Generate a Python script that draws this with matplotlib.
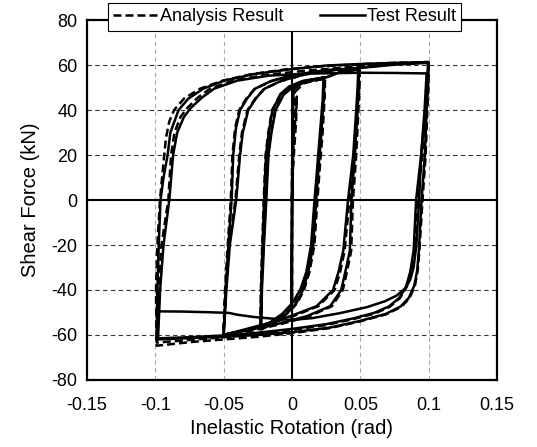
import matplotlib
matplotlib.use('Agg')
import matplotlib.pyplot as plt

plt.rcParams['font.family'] = ['Liberation Sans', 'DejaVu Sans']
plt.rcParams['axes.unicode_minus'] = False

# ---- data (inelastic rotation in rad, shear in kN) ----
# Test result (solid line)
test_small_x = [0.0, 0.0004, 0.0006, 0.0003, 0.0, -0.0003, -0.0002, 0.0002, 0.001]
test_small_y = [0.0, 30.0, 48.0, 20.0, 0.0, -30.0, -47.0, 0.0, 49.0]

test_025_x = [0.001, 0.008, 0.0235, 0.023, 0.0215, 0.0195, 0.0177, 0.0155, 0.012, 0.008, 0.003, -0.003, -0.012, -0.023,
              -0.0225, -0.0215, -0.0204, -0.019, -0.017, -0.0143, -0.008, -0.002, 0.008, 0.023,
              0.0225, 0.0205, 0.0185, 0.0165, 0.014, 0.0105, 0.006, 0.0, -0.007, -0.015, -0.0225,
              -0.022, -0.0205, -0.0188, -0.0172, -0.015, -0.012, -0.006, 0.0, 0.01, 0.0225, 0.035, 0.049]
test_025_y = [49.0, 52.5, 54.5, 45.0, 30.0, 15.0, 0.0, -20.0, -32.0, -40.0, -46.0, -50.0, -54.0, -57.5,
              -40.0, -20.0, 0.0, 20.0, 30.0, 40.0, 47.4, 50.5, 53.0, 54.5,
              45.0, 30.0, 15.0, 0.0, -20.0, -32.0, -40.0, -46.0, -50.5, -54.0, -57.2,
              -40.0, -20.0, 0.0, 20.0, 30.0, 40.0, 47.0, 50.0, 52.5, 54.0, 56.8, 58.0]

test_05_x = [0.049, 0.0487, 0.0477, 0.046, 0.0435, 0.0423, 0.039, 0.036, 0.028, 0.011, -0.01, -0.03, -0.05,
             -0.0485, -0.0465, -0.0442, -0.043, -0.041, -0.038, -0.033, -0.027, -0.015, 0.0, 0.025, 0.0485,
             0.048, 0.047, 0.0448, 0.041, 0.0375, 0.034, 0.030, 0.018, -0.001, -0.02, -0.035, -0.05,
             -0.048, -0.0455, -0.0408, -0.038, -0.036, -0.032, -0.026, -0.02, -0.008, 0.01, 0.03, 0.048, 0.075, 0.1]
test_05_y = [58.0, 50.0, 40.0, 20.0, 0.0, -22.6, -32.0, -40.0, -47.2, -51.6, -55.0, -57.6, -59.8,
             -40.0, -20.0, 0.0, 20.0, 32.0, 40.0, 45.0, 49.5, 53.0, 55.5, 57.8, 58.5,
             50.0, 40.0, 20.0, 0.0, -22.6, -32.0, -40.0, -47.2, -51.6, -55.2, -57.6, -60.0,
             -40.0, -20.0, 0.0, 20.0, 30.0, 40.0, 45.5, 49.5, 53.0, 56.0, 57.8, 58.6, 60.2, 61.0]

test_10_x = [0.1, 0.0995, 0.0985, 0.0972, 0.0948, 0.0928, 0.0916, 0.0895, 0.0855, 0.0795, 0.0688, 0.0495, 0.028, 0.0,
             -0.025, -0.05, -0.075, -0.099,
             -0.0985, -0.0975, -0.0962, -0.094, -0.091, -0.089, -0.083, -0.076, -0.065, -0.0495, -0.028,
             -0.003, 0.025, 0.05, 0.075, 0.0995,
             0.099, 0.0975, 0.0945, 0.0908, 0.089, 0.0865, 0.0835, 0.0785, 0.071, 0.06, 0.045, 0.025, 0.0,
             -0.025, -0.05, -0.075, -0.098,
             -0.0965, -0.094, -0.0898, -0.087, -0.084, -0.079, -0.074, -0.066, -0.057, -0.04, -0.017,
             0.01, 0.05, 0.075, 0.0985]
test_10_y = [61.0, 50.0, 40.0, 20.0, 0.0, -22.6, -31.3, -38.0, -43.5, -47.3, -50.6, -53.8, -56.7, -58.8,
             -60.0, -60.8, -61.4, -62.0,
             -40.0, -20.0, 0.0, 10.0, 20.0, 30.0, 40.0, 45.0, 49.5, 53.1, 56.0,
             58.0, 59.8, 60.5, 61.0, 61.3,
             50.0, 40.0, 20.0, 0.0, -22.6, -32.0, -38.5, -43.5, -47.3, -50.2, -52.6, -55.2, -57.3,
             -59.0, -60.2, -61.0, -61.5,
             -40.0, -20.0, 0.0, 20.0, 30.0, 37.0, 41.0, 45.5, 49.5, 53.1, 55.3,
             56.2, 56.6, 56.5, 56.3]

test_final_x = [0.0985, 0.097, 0.0945, 0.093, 0.091, 0.089, 0.0865, 0.0825, 0.0765, 0.068, 0.055, 0.035, 0.015, 0.0,
                -0.015, -0.028, -0.04, -0.046, -0.06, -0.08, -0.097]
test_final_y = [56.3, 40.0, 20.0, 0.0, -20.0, -30.0, -35.5, -39.5, -42.5, -45.0, -47.6, -50.3, -52.5, -53.3,
                -52.7, -52.0, -51.0, -50.2, -49.9, -49.6, -49.5]

# Analysis result (dashed line)
ana_small_x = [0.0, 0.0, 0.0008, 0.0025, 0.0035, 0.003, 0.0022, 0.0008, 0.0, 0.0, 0.0, 0.0, 0.002]
ana_small_y = [0.0, 15.0, 26.0, 36.0, 46.0, 35.0, 28.0, 15.0, 0.0, -20.0, -45.0, 0.0, 48.0]

ana_025_x = [0.002, 0.009, 0.0242, 0.0238, 0.0224, 0.0204, 0.0186, 0.0164, 0.0128, 0.0088, 0.0036, -0.0025, -0.0115, -0.0232,
             -0.0228, -0.0218, -0.0207, -0.0193, -0.0173, -0.0146, -0.0083, -0.0022, 0.0078, 0.0238,
             0.0233, 0.0213, 0.0193, 0.0173, 0.0148, 0.0112, 0.0068, 0.0008, -0.0062, -0.0145, -0.0228,
             -0.0224, -0.0209, -0.0192, -0.0176, -0.0154, -0.0124, -0.0063, -0.0003, 0.0098, 0.0232, 0.035, 0.0495]
ana_025_y = [48.0, 52.0, 54.2, 45.0, 30.0, 15.0, 0.0, -20.0, -32.0, -40.0, -46.0, -50.0, -54.2, -57.8,
             -40.0, -20.0, 0.0, 20.0, 30.0, 40.0, 47.2, 50.3, 52.8, 54.2,
             45.0, 30.0, 15.0, 0.0, -20.0, -32.0, -40.0, -46.0, -50.6, -54.3, -57.5,
             -40.0, -20.0, 0.0, 20.0, 30.0, 40.0, 46.8, 49.8, 52.4, 53.9, 57.0, 58.3]

ana_05_x = [0.0495, 0.0494, 0.0486, 0.047, 0.0446, 0.0433, 0.0402, 0.0372, 0.0292, 0.0122, -0.009, -0.029, -0.0502,
            -0.049, -0.047, -0.0448, -0.0436, -0.0416, -0.0386, -0.0336, -0.0276, -0.0155, -0.0003, 0.0248, 0.049,
            0.0488, 0.048, 0.0458, 0.042, 0.0385, 0.0352, 0.0312, 0.0192, 0.0003, -0.019, -0.034, -0.0502,
            -0.0485, -0.046, -0.0414, -0.0386, -0.0366, -0.0326, -0.0266, -0.0206, -0.0085, 0.0097, 0.0298, 0.0485, 0.075, 0.1]
ana_05_y = [58.3, 50.0, 40.0, 20.0, 0.0, -22.6, -32.0, -40.0, -47.2, -51.8, -55.3, -58.0, -60.3,
            -40.0, -20.0, 0.0, 20.0, 32.0, 40.0, 45.0, 49.3, 52.8, 55.3, 57.6, 58.6,
            50.0, 40.0, 20.0, 0.0, -22.6, -32.0, -40.0, -47.2, -51.8, -55.5, -58.0, -60.5,
            -40.0, -20.0, 0.0, 20.0, 30.0, 40.0, 45.3, 49.3, 52.8, 55.8, 57.8, 58.8, 60.4, 61.2]

ana_10_x = [0.1, 0.0998, 0.099, 0.0978, 0.0955, 0.0932, 0.092, 0.09, 0.086, 0.08, 0.069, 0.0495, 0.028, 0.0,
            -0.025, -0.05, -0.075, -0.099,
            -0.0995, -0.0985, -0.0966, -0.0935, -0.0922, -0.0898, -0.0863, -0.079, -0.0673, -0.0507, -0.0294,
            -0.0033, 0.025, 0.05, 0.075, 0.0995,
            0.0993, 0.098, 0.0955, 0.0915, 0.0895, 0.087, 0.084, 0.079, 0.0715, 0.0605, 0.045, 0.025, 0.0,
            -0.025, -0.05, -0.075, -0.099,
            -0.098, -0.0955, -0.0905, -0.0885, -0.086, -0.0815, -0.0765, -0.069, -0.06, -0.043, -0.02,
            0.01, 0.05, 0.075, 0.0995]
ana_10_y = [61.2, 50.0, 40.0, 20.0, 0.0, -22.6, -31.3, -38.0, -43.6, -47.5, -50.8, -54.0, -56.9, -59.2,
            -60.8, -62.0, -63.2, -64.8,
            -40.0, -20.0, 0.0, 20.0, 27.6, 34.9, 40.0, 45.1, 49.5, 53.1, 56.0,
            58.2, 59.6, 60.4, 61.0, 61.4,
            50.0, 40.0, 20.0, 0.0, -22.6, -32.0, -38.5, -43.6, -47.5, -50.5, -52.9, -55.6, -57.8,
            -59.6, -61.0, -62.2, -63.4,
            -40.0, -20.0, 0.0, 20.0, 30.0, 37.0, 41.0, 45.5, 49.5, 53.1, 55.6,
            57.5, 59.5, 60.5, 61.2]

x_ticks = [-0.15, -0.1, -0.05, 0, 0.05, 0.1, 0.15]
x_tick_labels = ['-0.15', '-0.1', '-0.05', '0', '0.05', '0.1', '0.15']
y_ticks = [-80, -60, -40, -20, 0, 20, 40, 60, 80]
y_tick_labels = ['-80', '-60', '-40', '-20', '0', '20', '40', '60', '80']

test_parts = [(test_small_x, test_small_y), (test_025_x, test_025_y), (test_05_x, test_05_y),
              (test_10_x, test_10_y), (test_final_x, test_final_y)]
ana_parts = [(ana_small_x, ana_small_y), (ana_025_x, ana_025_y), (ana_05_x, ana_05_y),
             (ana_10_x, ana_10_y)]

fig = plt.figure(figsize=(5.37, 4.47), dpi=100)
ax = fig.add_axes([0.162, 0.150, 0.7635, 0.805])

# grid
for yv in [-60, -40, -20, 20, 40, 60]:
    ax.axhline(yv, color='#333333', lw=0.8, ls=(0, (4, 3)), zorder=1)
for xv in [-0.1, -0.05, 0.05, 0.1]:
    ax.axvline(xv, color='#aaaaaa', lw=0.8, ls=(0, (4, 3)), zorder=1)
ax.axhline(0, color='black', lw=1.5, zorder=1.5)
ax.axvline(0, color='black', lw=1.5, zorder=1.5)

# curves
for i, (xs, ys) in enumerate(ana_parts):
    ax.plot(xs, ys, color='black', lw=1.8, ls=(0, (3.2, 1.6)), zorder=3,
            label='Analysis Result' if i == 0 else None)
for i, (xs, ys) in enumerate(test_parts):
    ax.plot(xs, ys, color='black', lw=1.8, zorder=3,
            label='Test Result' if i == 0 else None)

ax.set_xlim(-0.15, 0.15)
ax.set_ylim(-80, 80)
ax.set_xticks(x_ticks, x_tick_labels)
ax.set_yticks(y_ticks, y_tick_labels)
ax.tick_params(length=0, labelsize=13)
ax.tick_params(axis='x', pad=12)
ax.tick_params(axis='y', pad=7)
for sp in ax.spines.values():
    sp.set_linewidth(1.6)

ax.set_xlabel('Inelastic Rotation (rad)', fontsize=14.5, labelpad=4)
ax.set_ylabel('Shear Force (kN)', fontsize=14.5, labelpad=8)

leg = ax.legend(loc='center', bbox_to_anchor=(0.53, 0.962), bbox_transform=fig.transFigure,
                ncol=2, fontsize=13, frameon=True, fancybox=False, framealpha=1,
                edgecolor='black', handlelength=2.5, handletextpad=0.1, columnspacing=2.0,
                borderpad=0.3)
leg.get_frame().set_linewidth(0.8)

fig.savefig('out.png', dpi=100)
